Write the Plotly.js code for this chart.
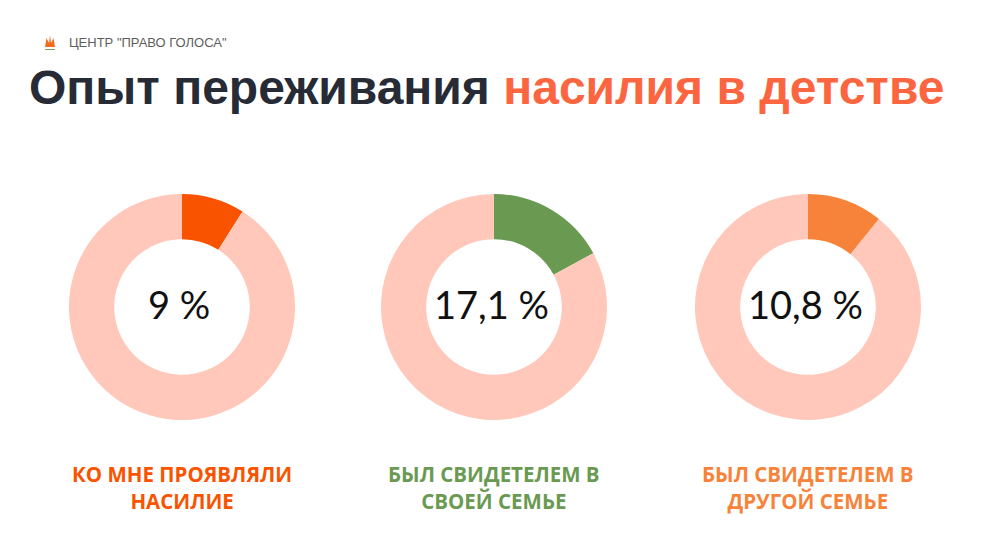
<!DOCTYPE html>
<html><head><meta charset="utf-8">
<script src="https://cdn.plot.ly/plotly-3.0.1.min.js"></script>
<style>html,body{margin:0;padding:0;background:#fff}#chart{width:990px;height:556px}</style>
</head><body><div id="chart"></div>
<script>
const categories = ["КО МНЕ ПРОЯВЛЯЛИ<br>НАСИЛИЕ", "БЫЛ СВИДЕТЕЛЕМ В<br>СВОЕЙ СЕМЬЕ", "БЫЛ СВИДЕТЕЛЕМ В<br>ДРУГОЙ СЕМЬЕ"];
const percentValues = [9, 17.1, 10.8];
const percentLabels = ["9 %", "17,1 %", "10,8 %"];
const accentColors = ["#FA5300", "#6A9A52", "#F7833A"];
const restColor = "#FFC8BA";

const centers = [182, 494, 808];
const W = 990, H = 556, cy = 307, R = 113;

const data = percentValues.map((v, i) => ({
  type: "pie",
  values: [v, 100 - v],
  sort: false,
  direction: "clockwise",
  rotation: 0,
  hole: 0.6,
  textinfo: "none",
  hoverinfo: "none",
  showlegend: false,
  marker: {colors: [accentColors[i], restColor], line: {width: 0}},
  domain: {x: [(centers[i] - R) / W, (centers[i] + R) / W], y: [(H - cy - R) / H, (H - cy + R) / H]}
}));

const annotations = [];
percentLabels.forEach((t, i) => {
  annotations.push({text: t, x: (centers[i] - 3) / W, y: (H - 304) / H, xref: "paper", yref: "paper",
    showarrow: false, xanchor: "center", yanchor: "middle",
    font: {family: "Lato, 'Open Sans', sans-serif", size: 38, color: "#111"}});
  annotations.push({text: "<b>" + categories[i] + "</b>", x: centers[i] / W, y: (H - 487) / H, xref: "paper", yref: "paper",
    showarrow: false, xanchor: "center", yanchor: "middle", align: "center",
    font: {family: "'Open Sans', sans-serif", size: 20.5, color: accentColors[i]}});
});
annotations.push({text: "<b>Опыт переживания <span style='color:#FB6640'>насилия в детстве</span></b>",
  x: 27 / W, y: (H - 87) / H, xref: "paper", yref: "paper", showarrow: false, xanchor: "left", yanchor: "middle",
  font: {family: "'Liberation Sans', Arial, sans-serif", size: 48, color: "#272B36"}});
annotations.push({text: "ЦЕНТР \"ПРАВО ГОЛОСА\"", x: 67 / W, y: (H - 43) / H, xref: "paper", yref: "paper",
  showarrow: false, xanchor: "left", yanchor: "middle",
  font: {family: "'Liberation Sans', Arial, sans-serif", size: 13, color: "#5E5E5E"}});

const shapes = [
  {type: "path", xref: "paper", yref: "paper",
   path: `M ${45/W} ${(H-47)/H} L ${46.5/W} ${(H-38)/H} L ${49/W} ${(H-43)/H} L ${50/W} ${(H-35)/H} L ${51/W} ${(H-43)/H} L ${53.5/W} ${(H-38)/H} L ${55/W} ${(H-47)/H} Z`,
   fillcolor: "#F56A1E", line: {width: 0}},
  {type: "rect", xref: "paper", yref: "paper", x0: 45/W, x1: 55/W, y0: (H-50)/H, y1: (H-49)/H,
   fillcolor: "#7BA05B", line: {width: 0}}
];

Plotly.newPlot("chart", data, {
  width: W, height: H, margin: {l: 0, r: 0, t: 0, b: 0},
  paper_bgcolor: "#fff", plot_bgcolor: "#fff",
  annotations: annotations, shapes: shapes
}, {displayModeBar: false, staticPlot: true});
</script></body></html>
